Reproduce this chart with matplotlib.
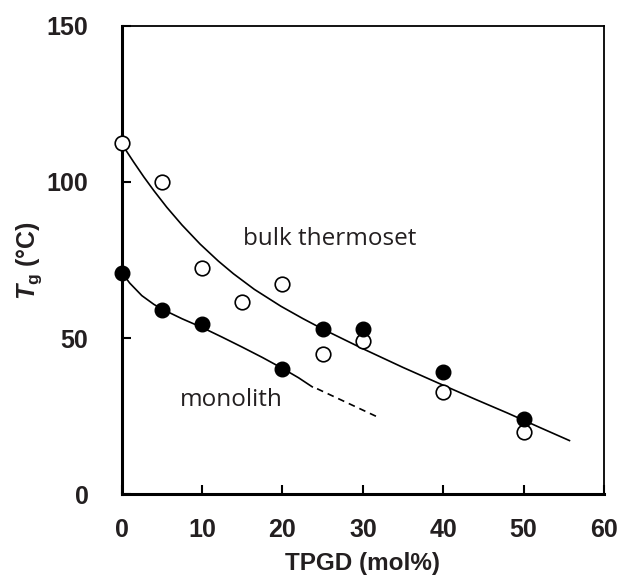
import matplotlib
matplotlib.use("Agg")
import matplotlib.pyplot as plt

plt.rcParams["font.family"] = ["Liberation Sans", "DejaVu Sans"]
plt.rcParams["mathtext.fontset"] = "custom"
plt.rcParams["mathtext.it"] = "Liberation Sans:italic:bold"
plt.rcParams["mathtext.rm"] = "Liberation Sans:bold"

# measured points
x_open = [0, 5, 10, 15, 20, 25, 30, 40, 50]
y_open = [112.5, 100, 72.3, 61.5, 67.3, 45, 49, 32.8, 19.8]

x_filled = [0, 5, 10, 20, 25, 30, 40, 50]
y_filled = [70.8, 59, 54.6, 40.1, 53, 52.9, 39.3, 24.2]

# hand-drawn trend lines
x_bulk = [0.3, 1.5, 2.75, 4, 5.6, 7.5, 9.75, 12, 13.9, 16.5, 19.8, 22.5, 25, 30, 35, 40, 44, 48, 52, 55.7]
y_bulk = [111, 106.3, 101.6, 97.2, 91.9, 86.2, 80.1, 74.7, 70.6, 65.6, 60.2, 56.3, 52.9, 46.6, 40.6, 34.9, 30.4, 26, 21.4, 17.2]

x_mono = [0.3, 1, 2.5, 4, 5, 7.5, 10, 12.5, 15, 17.5, 20, 22, 23.7]
y_mono = [70, 67.6, 63.6, 60.8, 59.3, 56.2, 53.4, 50.3, 47.1, 43.8, 40.3, 37.3, 34.4]

x_dash = [24.3, 31.7]
y_dash = [33.8, 24.9]

fig = plt.figure(figsize=(6.22, 5.82), dpi=100)
ax = fig.add_axes([0.1957, 0.1507, 0.9711 - 0.1957, 0.9558 - 0.1507])

ax.plot(x_bulk, y_bulk, color="black", lw=1.2)
ax.plot(x_mono, y_mono, color="black", lw=1.2)
ax.plot(x_dash, y_dash, color="black", lw=1.2, ls=(0, (4, 3)))

ax.plot(x_open, y_open, "o", ms=10.5, mfc="white", mec="black", mew=1.2, ls="none", zorder=3, clip_on=False)
ax.plot(x_filled, y_filled, "o", ms=10.5, mfc="black", mec="black", ls="none", zorder=4, clip_on=False)

ax.text(15.1, 81.7, "bulk thermoset", fontsize=17.5, va="center", ha="left",
        color="#231f20", family="Open Sans")
ax.text(7.2, 30.3, "monolith", fontsize=17.5, va="center", ha="left",
        color="#231f20", family="Open Sans")

ax.set_xlim(0, 60)
ax.set_ylim(0, 150)
ax.set_xticks([0, 10, 20, 30, 40, 50, 60])
ax.set_yticks([0, 50, 100, 150])
ax.tick_params(direction="in", length=6.5, width=1.5, labelsize=18, top=False, right=False)
ax.tick_params(axis="y", pad=24)
ax.tick_params(axis="x", pad=17)
for lab in ax.get_xticklabels() + ax.get_yticklabels():
    lab.set_fontweight("bold")
    lab.set_color("#231f20")

ax.spines["left"].set_linewidth(2.2)
ax.spines["bottom"].set_linewidth(2.2)
ax.spines["top"].set_linewidth(1.3)
ax.spines["right"].set_linewidth(1.3)

ax.set_xlabel("TPGD (mol%)", fontsize=17.5, fontweight="bold", labelpad=7, color="#231f20")
ax.set_ylabel(r"$T_{\mathrm{g}}$ (°C)", fontsize=18, fontweight="bold", labelpad=2, color="#231f20")

fig.savefig("out.png", dpi=100)
